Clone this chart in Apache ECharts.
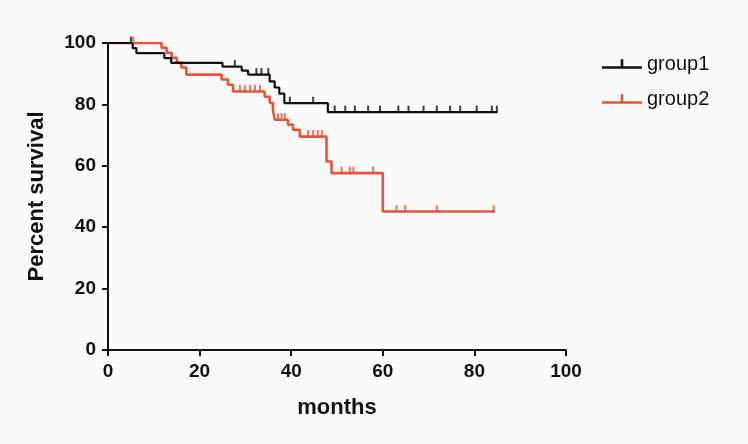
<!DOCTYPE html>
<html><head><meta charset="utf-8">
<script src="https://cdn.jsdelivr.net/npm/echarts@6/dist/echarts.min.js"></script>
<style>html,body{margin:0;padding:0;background:#fbfbfb}#c{width:748px;height:444px}</style>
</head><body><div id="c"></div>
<script>
// Kaplan-Meier step points: [month, percent survival]
const group1Times = [0, 5.4, 6.2, 12.3, 13.8, 25, 29.2, 30.6, 35.3, 36.4, 37.4, 38.5, 48, 85];
const group1Surv  = [100, 98.3, 96.7, 95.1, 93.5, 92.3, 91.0, 89.7, 87.5, 85.5, 83.5, 80.4, 77.5, 77.5];
const group1CensorTimes = [5, 27.7, 32.4, 33.5, 35, 39.7, 44.8, 49.5, 51.8, 53.9, 56.8, 59.4, 63.4, 65.6, 68.9, 71.8, 74.7, 76.9, 80.5, 83.8, 84.9];
const group1CensorSurv  = [100, 92.3, 89.7, 89.7, 89.7, 80.4, 80.4, 77.5, 77.5, 77.5, 77.5, 77.5, 77.5, 77.5, 77.5, 77.5, 77.5, 77.5, 77.5, 77.5, 77.5];

const group2Times = [0, 11.7, 12.8, 13.9, 15, 16, 17.1, 24.8, 26.2, 27.3, 34.2, 35.3, 36, 36.4, 39.3, 40.4, 41.9, 47.7, 48.8, 60, 84.5];
const group2Surv  = [100, 98.4, 96.8, 95.2, 93.6, 92, 89.7, 88.1, 86.4, 84.2, 82.5, 80.5, 78.3, 75, 73.4, 71.7, 69.5, 61.4, 57.6, 45.1, 45.1];
const group2CensorTimes = [5.5, 28.8, 29.9, 31, 32.1, 33.2, 37.1, 37.9, 38.6, 43.7, 44.8, 45.8, 46.7, 51, 52.8, 53.6, 57.9, 63, 64.9, 71.8, 84.2];
const group2CensorSurv  = [100, 84.2, 84.2, 84.2, 84.2, 84.2, 75, 75, 75, 69.5, 69.5, 69.5, 69.5, 57.6, 57.6, 57.6, 57.6, 45.1, 45.1, 45.1, 45.1];

const xTicks = [0, 20, 40, 60, 80, 100];
const yTicks = [0, 20, 40, 60, 80, 100];
const seriesNames = ['group1', 'group2'];

const BLACK = '#111111', RED = '#e5553a';
const FONT = 'Liberation Sans, Arial, sans-serif';
const zip = (a, b) => a.map((v, i) => [v, b[i]]);
const legendIcon = 'path://M0,7h40v2.6h-40z M18.7,0h2.6v7h-2.6z';

const chart = echarts.init(document.getElementById('c'), null, {renderer: 'canvas'});
chart.setOption({
  backgroundColor: '#fbfbfb',
  animation: false,
  grid: {left: 108, right: 182, top: 43, bottom: 94},
  legend: {
    data: seriesNames.map(n => ({name: n, icon: legendIcon})),
    orient: 'vertical', left: 597, top: 49, itemWidth: 40, itemHeight: 10, itemGap: 15,
    textStyle: {fontFamily: FONT, fontSize: 20, color: '#111'}
  },
  xAxis: {
    type: 'value', min: xTicks[0], max: xTicks[xTicks.length - 1], interval: 20,
    name: 'months', nameLocation: 'middle', nameGap: 47,
    nameTextStyle: {fontFamily: FONT, fontWeight: 'bold', fontSize: 22, color: '#111'},
    axisLine: {lineStyle: {color: BLACK, width: 2}},
    axisTick: {length: 6, lineStyle: {color: BLACK, width: 2}},
    axisLabel: {fontFamily: FONT, fontWeight: 'bold', fontSize: 19, color: '#111', margin: 12},
    splitLine: {show: false}
  },
  yAxis: {
    type: 'value', min: yTicks[0], max: yTicks[yTicks.length - 1], interval: 20,
    name: 'Percent survival', nameLocation: 'middle', nameGap: 60,
    nameTextStyle: {fontFamily: FONT, fontWeight: 'bold', fontSize: 22, color: '#111'},
    axisLine: {show: true, lineStyle: {color: BLACK, width: 2}},
    axisTick: {show: true, length: 6, lineStyle: {color: BLACK, width: 2}},
    axisLabel: {fontFamily: FONT, fontWeight: 'bold', fontSize: 19, color: '#111', margin: 12},
    splitLine: {show: false}
  },
  series: [
    {name: 'group1', type: 'line', step: 'end', data: zip(group1Times, group1Surv), showSymbol: false,
     lineStyle: {color: BLACK, width: 2.2}, itemStyle: {color: BLACK}, z: 3},
    {name: 'group2', type: 'line', step: 'end', data: zip(group2Times, group2Surv), showSymbol: false,
     lineStyle: {color: RED, width: 2.6}, itemStyle: {color: RED}, z: 2},
    {name: 'group1 censored', type: 'scatter', data: zip(group1CensorTimes, group1CensorSurv),
     symbol: 'rect', symbolSize: [2, 7], symbolOffset: [0, -3], itemStyle: {color: BLACK}, z: 4},
    {name: 'group2 censored', type: 'scatter', data: zip(group2CensorTimes, group2CensorSurv),
     symbol: 'rect', symbolSize: [2, 7], symbolOffset: [0, -3], itemStyle: {color: RED}, z: 4}
  ]
});
</script></body></html>
